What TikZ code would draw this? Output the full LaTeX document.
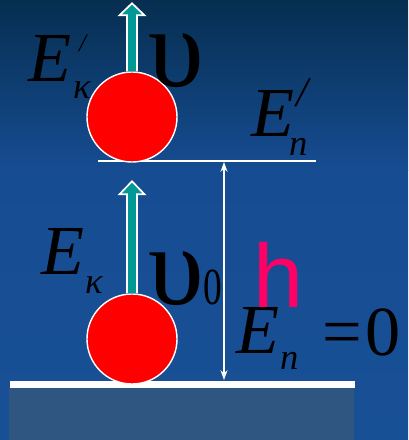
\documentclass[tikz,border=0pt]{standalone}
\usepackage{fontspec}
\setmainfont{Liberation Serif}
\newfontfamily\hfont{Liberation Sans}
\usetikzlibrary{arrows.meta}

\definecolor{bgtop}{RGB}{6,46,80}
\definecolor{bgmid}{RGB}{22,76,146}
\definecolor{bgbot}{RGB}{24,80,150}
\definecolor{groundcol}{RGB}{46,86,128}
\definecolor{arrowteal}{RGB}{0,153,150}
\definecolor{hcol}{RGB}{255,0,102}

\begin{document}
\begin{tikzpicture}[x=0.025cm,y=-0.025cm,
  ball/.style={circle,fill=red,draw=white,line width=1pt,minimum size=2.25cm,inner sep=0pt},
  velarrow/.style={fill=arrowteal,draw=white,line width=1.2pt,line join=miter},
  hline/.style={white,line width=0.9pt,{Stealth[length=7pt,width=5pt]}-{Stealth[length=7pt,width=5pt]}},
  lbl/.style={anchor=base west,inner sep=0pt,outer sep=0pt},
  bigE/.style={lbl,font=\fontsize{50}{60}\selectfont\itshape},
  subE/.style={lbl,font=\fontsize{26}{30}\selectfont\itshape},
  primeS/.style={lbl,font=\fontsize{18}{20}\selectfont\itshape},
  primeL/.style={lbl,font=\fontsize{30}{34}\selectfont\itshape},
  vsym/.style={lbl,font=\fontsize{80}{90}\selectfont},
  bigN/.style={lbl,font=\fontsize{50}{60}\selectfont},
  hlbl/.style={lbl,text=hcol,font=\fontsize{64}{70}\selectfont\hfont}]

\clip (0,0) rectangle (408,440);
\fill[top color=bgtop,bottom color=bgmid] (0,0) rectangle (408,170);
\fill[top color=bgmid,bottom color=bgbot] (0,170) rectangle (408,440);

% ground
\fill[groundcol] (9,388) rectangle (354,440);
\fill[white] (10,381) rectangle (355,388);

% upper level
\coordinate (lvlL) at (98,161);
\coordinate (lvlR) at (316,161);
\draw[white,line width=1.4pt] (lvlL) -- (lvlR);

% height h
\coordinate (hTop) at (224,162);
\coordinate (hBot) at (224,380);
\draw[hline] (hTop) -- (hBot);

% balls and velocities
\node[ball] (ballTop) at (132,117) {};
\node[ball] (ballBot) at (132,339) {};
\draw[velarrow] (ballTop.north) ++(-5,0) -- ++(0,-56) -- ++(-7.5,0) -- ++(12.5,-12) -- ++(12.5,12) -- ++(-7.5,0) -- ++(0,56);
\draw[velarrow] (ballBot.north) ++(-5,0) -- ++(0,-99) -- ++(-7.5,0) -- ++(12.5,-13) -- ++(12.5,13) -- ++(-7.5,0) -- ++(0,99);

% labels
\node[bigE] (EkTop) at (28,81) {E};
\node[primeS] (EkTopPrime) at (79,52) {/};
\node[subE] (EkTopSub) at (73,99) {κ};
\node[vsym] (vTop) at (148,87) {υ};
\node[bigE] (EnTop) at (251,136) {E};
\node[primeL] (EnTopPrime) at (296,106) {/};
\node[subE] (EnTopSub) at (289,155) {n};
\node[bigE] (EkBot) at (42,274) {E};
\node[subE] (EkBotSub) at (85,293) {κ};
\node[vsym] (vBot) at (148,304) {υ};
\node[lbl,font=\fontsize{37}{40}\selectfont] (vBotSub) at (203,304) {\scalebox{0.72}[1]{0}};
\node[hlbl] (hLbl) at (253,307) {h};
\node[bigE] (EnBot) at (236,353) {E};
\node[subE] (EnBotSub) at (280,369) {n};
\node[bigN] (EnBotVal) at (322,355) {=\kern3pt 0};
\end{tikzpicture}
\end{document}
